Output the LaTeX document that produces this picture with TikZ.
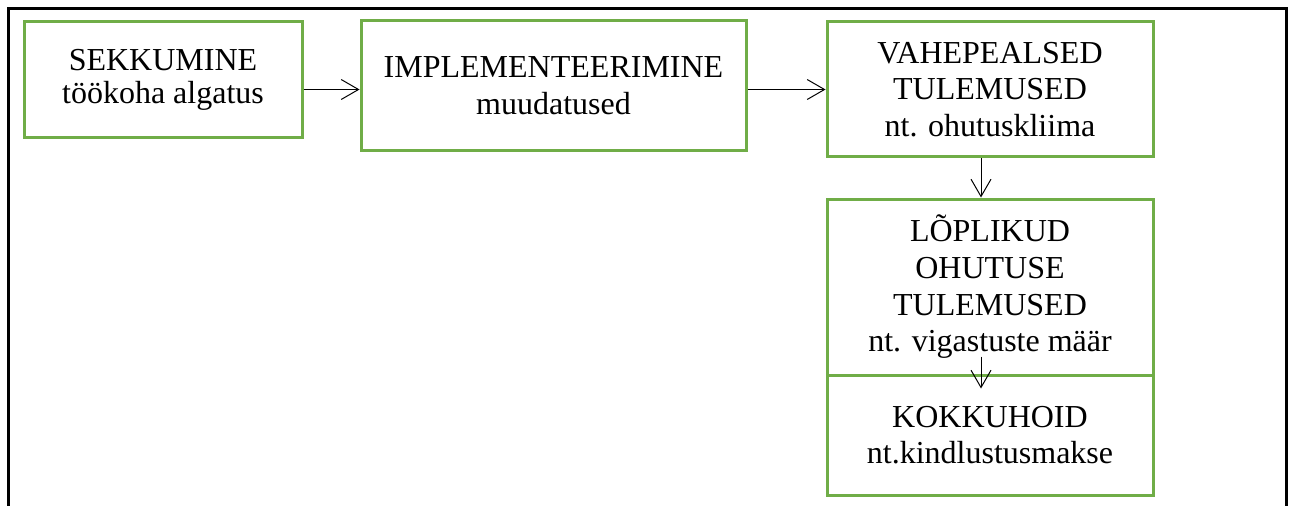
\documentclass[tikz,border=0pt]{standalone}
\usepackage{fontspec}
\setmainfont{Liberation Serif}
\usetikzlibrary{arrows.meta, positioning, calc}
\definecolor{boxgreen}{RGB}{112,173,71}

\tikzset{
  stage/.style={draw=boxgreen, line width=2.25pt, align=center, inner sep=0pt,
    font=\fontsize{24}{27.5}\selectfont},
  flow/.style={-{Straight Barb[length=13pt,width=15pt]}, line width=0.75pt},
}

\begin{document}
\begin{tikzpicture}[x=0.75pt, y=-0.75pt]
    \useasboundingbox (0,0) rectangle (1291,506);
    % outer frame, open at the bottom
    \draw[line width=2.25pt] (8,506) -- (8,9) -- (1286,9) -- (1286,506);
    % top row
    \node[stage, font=\fontsize{24}{24.5}\selectfont, minimum width=208.5pt, minimum height=87pt] (sekk) at (163,80) {SEKKUMINE\\töökoha algatus};
    \node[stage, minimum width=288.75pt, minimum height=97.5pt] (impl) at (553.5,86) {IMPLEMENTEERIMINE\\muudatused};
    \node[stage, minimum width=244.5pt, minimum height=101.25pt] (vahe) at (990,89.5) {VAHEPEALSED\\TULEMUSED\\nt. ohutuskliima};
    % right column
    \node[stage, minimum width=244.5pt, minimum height=132pt] (lopl) at (990,287) {LÕPLIKUD\\OHUTUSE\\TULEMUSED\\nt. vigastuste määr};
    \node[stage, minimum width=244.5pt, minimum height=90pt] (kokk) at (990,435) {KOKKUHOID\\nt.kindlustusmakse};
    % arrows
    \draw[flow] (sekk.east |- vahe.west) -- (impl.west |- vahe.west);
    \draw[flow] (impl.east |- vahe.west) -- (vahe.west);
    \draw[flow] ([xshift=-6.75pt]vahe.south) -- ([xshift=-6.75pt]lopl.north);
    \draw[flow] ([xshift=-6.75pt,yshift=15pt]lopl.south) -- ([xshift=-6.75pt,yshift=-11.25pt]kokk.north);
\end{tikzpicture}
\end{document}
